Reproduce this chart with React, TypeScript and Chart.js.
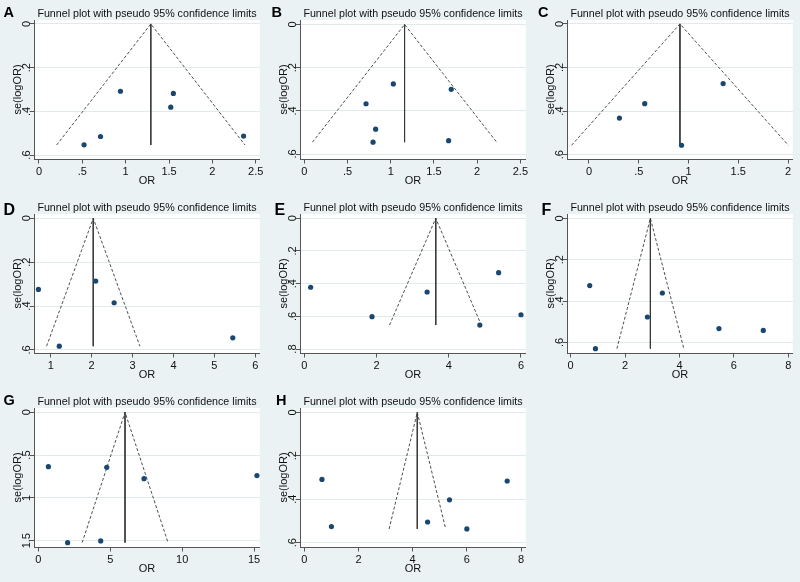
import React, { useEffect, useRef } from "react";
import { Chart, registerables } from "chart.js";

Chart.register(...registerables);

const FONT = '"Liberation Sans", Arial, Helvetica, sans-serif';
const NAVY = "#1a476f";
const BG = "#eaf2f3";

// ---- Panel A ----
const aOR = [0.52, 0.71, 0.94, 1.52, 1.55, 2.36];
const aSE = [0.553, 0.515, 0.308, 0.381, 0.318, 0.513];
const aPooled = 1.29;
const aLimits = [0.204, 2.376];
const aMaxSE = 0.554;
const aXTicks = [0, 0.5, 1, 1.5, 2, 2.5];
const aYTicks = [0, 0.2, 0.4, 0.6];

// ---- Panel B ----
const bOR = [0.714, 1.03, 1.7, 0.825, 0.795, 1.67];
const bSE = [0.367, 0.275, 0.3, 0.485, 0.545, 0.538];
const bPooled = 1.16;
const bLimits = [0.094, 2.226];
const bMaxSE = 0.545;
const bXTicks = [0, 0.5, 1, 1.5, 2, 2.5];
const bYTicks = [0, 0.2, 0.4, 0.6];

// ---- Panel C ----
const cOR = [0.306, 0.56, 1.348, 0.93];
const cSE = [0.432, 0.366, 0.274, 0.557];
const cPooled = 0.914;
const cLimits = [-0.175, 2.003];
const cMaxSE = 0.557;
const cXTicks = [0, 0.5, 1, 1.5, 2];
const cYTicks = [0, 0.2, 0.4, 0.6];

// ---- Panel D ----
const dOR = [0.7, 1.21, 2.1, 2.55, 5.45];
const dSE = [0.324, 0.583, 0.286, 0.385, 0.545];
const dPooled = 2.04;
const dLimits = [0.9, 3.18];
const dMaxSE = 0.583;
const dXTicks = [1, 2, 3, 4, 5, 6];
const dYTicks = [0, 0.2, 0.4, 0.6];

// ---- Panel E ----
const eOR = [0.175, 1.875, 3.4, 5.38, 4.86, 6.0];
const eSE = [0.422, 0.602, 0.451, 0.333, 0.653, 0.59];
const ePooled = 3.64;
const eLimits = [2.36, 4.9];
const eMaxSE = 0.653;
const eXTicks = [0, 2, 4, 6];
const eYTicks = [0, 0.2, 0.4, 0.6, 0.8];

// ---- Panel F ----
const fOR = [0.7, 0.91, 2.82, 3.37, 5.45, 7.08];
const fSE = [0.325, 0.63, 0.477, 0.361, 0.533, 0.542];
const fPooled = 2.93;
const fLimits = [1.7, 4.16];
const fMaxSE = 0.63;
const fXTicks = [0, 2, 4, 6, 8];
const fYTicks = [0, 0.2, 0.4, 0.6];

// ---- Panel G ----
const gOR = [0.7, 2.04, 4.76, 4.34, 7.35, 15.2];
const gSE = [0.635, 1.523, 0.643, 1.503, 0.776, 0.74];
const gPooled = 6.03;
const gLimits = [3.05, 9.02];
const gMaxSE = 1.523;
const gXTicks = [0, 5, 10, 15];
const gYTicks = [0, 0.5, 1, 1.5];

// ---- Panel H ----
const hOR = [0.65, 1.0, 4.55, 5.36, 6.0, 7.49];
const hSE = [0.309, 0.526, 0.505, 0.403, 0.537, 0.316];
const hPooled = 4.17;
const hLimits = [3.13, 5.22];
const hMaxSE = 0.537;
const hXTicks = [0, 2, 4, 6, 8];
const hYTicks = [0, 0.2, 0.4, 0.6];

const PANEL_TITLE = "Funnel plot with pseudo 95% confidence limits";
const X_TITLE = "OR";
const Y_TITLE = "se(logOR)";

const panels = [
  { letter: "A", or: aOR, se: aSE, pooled: aPooled, limits: aLimits, maxSE: aMaxSE, xTicks: aXTicks, yTicks: aYTicks, x: [-0.055, 2.547], y: [-0.018, 0.618], letterX: 3.5 },
  { letter: "B", or: bOR, se: bSE, pooled: bPooled, limits: bLimits, maxSE: bMaxSE, xTicks: bXTicks, yTicks: bYTicks, x: [-0.048, 2.563], y: [-0.021, 0.623], letterX: 5.5 },
  { letter: "C", or: cOR, se: cSE, pooled: cPooled, limits: cLimits, maxSE: cMaxSE, xTicks: cXTicks, yTicks: cYTicks, x: [-0.219, 2.048], y: [-0.018, 0.62], letterX: 5 },
  { letter: "D", or: dOR, se: dSE, pooled: dPooled, limits: dLimits, maxSE: dMaxSE, xTicks: dXTicks, yTicks: dYTicks, x: [0.597, 6.11], y: [-0.0196, 0.614], letterX: 3.5 },
  { letter: "E", or: eOR, se: eSE, pooled: ePooled, limits: eLimits, maxSE: eMaxSE, xTicks: eXTicks, yTicks: eYTicks, x: [-0.114, 6.133], y: [-0.026, 0.824], letterX: 8.5 },
  { letter: "F", or: fOR, se: fSE, pooled: fPooled, limits: fLimits, maxSE: fMaxSE, xTicks: fXTicks, yTicks: fYTicks, x: [-0.128, 8.165], y: [-0.021, 0.651], letterX: 8.5 },
  { letter: "G", or: gOR, se: gSE, pooled: gPooled, limits: gLimits, maxSE: gMaxSE, xTicks: gXTicks, yTicks: gYTicks, x: [-0.285, 15.4], y: [-0.05, 1.574], letterX: 3.5 },
  { letter: "H", or: hOR, se: hSE, pooled: hPooled, limits: hLimits, maxSE: hMaxSE, xTicks: hXTicks, yTicks: hYTicks, x: [-0.153, 8.177], y: [-0.02, 0.62], letterX: 10 },
];

const COL_LEFT = [0, 266, 533];
const COL_W = [266, 267, 267];
const ROW_TOP = [0, 194, 388];
const ROW_H = 194;

const AREA_LEFT = 34.2;
const AREA_RIGHT = 259.8;
const AREA_TOP = 20;
const AREA_BOTTOM = 159;

function fmt(v: number): string {
  let s = String(Math.round(v * 1000) / 1000);
  if (s.startsWith("0.")) s = s.slice(1);
  if (s.startsWith("-0.")) s = "-" + s.slice(2);
  return s;
}

const decor = {
  id: "decor",
  beforeDraw(chart: any) {
    const { ctx, chartArea: a } = chart;
    ctx.save();
    ctx.fillStyle = "#ffffff";
    ctx.fillRect(a.left, a.top, a.right - a.left, a.bottom - a.top);
    ctx.restore();
  },
  afterDraw(chart: any, _args: any, opts: any) {
    const { ctx, chartArea: a } = chart;
    ctx.save();
    ctx.fillStyle = "#111";
    ctx.font = `10.7px ${FONT}`;
    ctx.textAlign = "center";
    ctx.textBaseline = "alphabetic";
    ctx.fillText(opts.title, (a.left + a.right) / 2, 17);
    ctx.font = `bold ${opts.letterSize}px ${FONT}`;
    ctx.textAlign = "left";
    ctx.fillStyle = "#000";
    ctx.fillText(opts.letter, opts.letterX, opts.letterY);
    ctx.restore();
  },
};

function Panel({ cfg, row, col }: { cfg: any; row: number; col: number }) {
  const ref = useRef<HTMLCanvasElement>(null);
  const width = COL_W[col];
  const height = ROW_H;
  useEffect(() => {
    const canvas = ref.current!;
    const mctx = canvas.getContext("2d")!;
    mctx.font = `11px ${FONT}`;
    const widest = Math.max(...cfg.yTicks.map((v: number) => mctx.measureText(fmt(v)).width));
    const tickLen = 4.5;
    const yPad = AREA_LEFT - tickLen - 26.9 - widest / 2;

    const chart = new Chart(canvas, {
      type: "scatter",
      data: {
        datasets: [
          {
            data: cfg.or.map((x: number, i: number) => ({ x, y: cfg.se[i] })),
            pointRadius: 2.6,
            pointBackgroundColor: NAVY,
            pointBorderColor: NAVY,
            pointBorderWidth: 0,
            showLine: false,
            clip: false,
          } as any,
          {
            data: [
              { x: cfg.limits[0], y: cfg.maxSE },
              { x: cfg.pooled, y: 0 },
              { x: cfg.limits[1], y: cfg.maxSE },
            ],
            showLine: true,
            borderColor: "#3a3a3a",
            borderWidth: 0.9,
            borderDash: [3, 2],
            pointRadius: 0,
            fill: false,
          },
          {
            data: [
              { x: cfg.pooled, y: 0 },
              { x: cfg.pooled, y: cfg.maxSE },
            ],
            showLine: true,
            borderColor: "#3a3a3a",
            borderWidth: 1,
            pointRadius: 0,
            fill: false,
          },
        ],
      },
      options: {
        animation: false,
        responsive: false,
        devicePixelRatio: 1,
        layout: { padding: { left: 0, top: AREA_TOP, right: width - AREA_RIGHT, bottom: 0 } },
        plugins: {
          legend: { display: false },
          tooltip: { enabled: false },
          title: { display: false },
          decor: {
            title: PANEL_TITLE,
            letter: cfg.letter,
            letterX: cfg.letterX,
            letterY: row === 1 ? 20.5 : 16.8,
            letterSize: row === 1 ? 16 : 14.5,
          },
        } as any,
        scales: {
          x: {
            type: "linear",
            min: cfg.x[0],
            max: cfg.x[1],
            afterBuildTicks: (s: any) => {
              s.ticks = cfg.xTicks.map((v: number) => ({ value: v }));
            },
            afterFit: (s: any) => {
              s.height = ROW_H - AREA_BOTTOM;
            },
            ticks: {
              font: { family: FONT, size: 11 },
              color: "#111",
              padding: 1.5,
              minRotation: 0,
              maxRotation: 0,
              autoSkip: false,
              callback: (v: any) => fmt(Number(v)),
            },
            grid: {
              drawOnChartArea: false,
              drawTicks: true,
              tickLength: tickLen,
              tickColor: "#555",
              color: "#555",
            },
            border: { display: true, color: "#555", width: 1 },
            title: {
              display: true,
              text: X_TITLE,
              font: { family: FONT, size: 11 },
              color: "#111",
              padding: { top: 0, bottom: 6.4 },
            },
          },
          y: {
            type: "linear",
            reverse: true,
            min: cfg.y[0],
            max: cfg.y[1],
            afterBuildTicks: (s: any) => {
              s.ticks = cfg.yTicks.map((v: number) => ({ value: v }));
            },
            afterFit: (s: any) => {
              s.width = AREA_LEFT;
            },
            ticks: {
              font: { family: FONT, size: 11 },
              color: "#111",
              minRotation: 90,
              maxRotation: 90,
              crossAlign: "center",
              padding: yPad,
              autoSkip: false,
              callback: (v: any) => fmt(Number(v)),
            },
            grid: {
              drawOnChartArea: true,
              drawTicks: true,
              tickLength: tickLen,
              tickColor: "#555",
              color: "#e1e9eb",
              lineWidth: 1,
            },
            border: { display: true, color: "#555", width: 1 },
            title: {
              display: true,
              text: Y_TITLE,
              font: { family: FONT, size: 11 },
              color: "#111",
              padding: { top: 11.7, bottom: 0 },
            },
          },
        },
      } as any,
      plugins: [decor as any],
    });
    return () => chart.destroy();
  }, []);
  return (
    <canvas
      ref={ref}
      width={width}
      height={height}
      style={{
        position: "absolute",
        left: COL_LEFT[col],
        top: ROW_TOP[row],
        width,
        height,
        display: "block",
      }}
    />
  );
}

export default function App() {
  return (
    <div
      style={{
        position: "absolute",
        left: 0,
        top: 0,
        width: 800,
        height: 582,
        background: BG,
        overflow: "hidden",
      }}
    >
      {panels.map((p, i) => (
        <Panel key={p.letter} cfg={p} row={Math.floor(i / 3)} col={i % 3} />
      ))}
    </div>
  );
}
